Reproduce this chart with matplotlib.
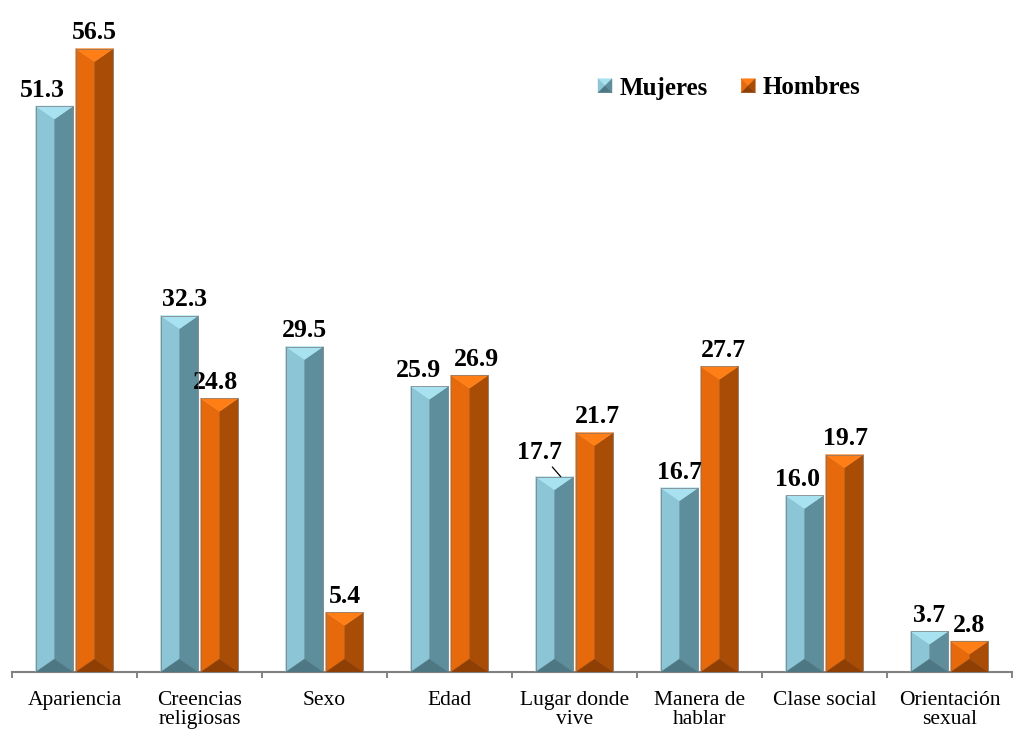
import matplotlib
matplotlib.use("Agg")
import matplotlib.pyplot as plt
import numpy as np
from matplotlib.patches import Polygon
from matplotlib.legend_handler import HandlerBase

categories = ["Apariencia", "Creencias\nreligiosas", "Sexo", "Edad",
              "Lugar donde\nvive", "Manera de\nhablar", "Clase social",
              "Orientación\nsexual"]
mujeres = [51.3, 32.3, 29.5, 25.9, 17.7, 16.7, 16.0, 3.7]
hombres = [56.5, 24.8, 5.4, 26.9, 21.7, 27.7, 19.7, 2.8]

# face colours: top, left, right, bottom
BLUE = ["#a8e2f1", "#8cc6d6", "#5e8e9b", "#4d7783"]
ORANGE = ["#ff7e16", "#e6690b", "#a94c06", "#8f3f04"]

# horizontal nudge of the value labels (points) so neighbours don't collide
nudge_m = [-9, 4, 0, -8, -11, 0, -5, 0]
nudge_h = [0, -3, 0, 5, 2, 3, 1, 0]

plt.rcParams["font.family"] = ["Liberation Serif", "DejaVu Serif"]

fig = plt.figure(figsize=(10.13, 7.33), dpi=100)
ax = fig.add_axes([12 / 1013, 61 / 733, 1000 / 1013, 662 / 733])
ax.set_xlim(-0.5, len(categories) - 0.5)
ax.set_ylim(0, 60)

x = np.arange(len(categories))
width = 0.3
off = 0.16


def bevel(ax, rect, cols, depth_px=13):
    x0, w, h = rect.get_x(), rect.get_width(), rect.get_height()
    x1, xm = x0 + w, x0 + w / 2
    upp = 1.0 / (ax.transData.transform((0, 1))[1] - ax.transData.transform((0, 0))[1])
    d = min(depth_px * upp, h / 2)
    polys = [
        ([(x0, 0), (x0, h), (xm, h - d), (xm, d)], cols[1]),
        ([(x1, 0), (x1, h), (xm, h - d), (xm, d)], cols[2]),
        ([(x0, h), (x1, h), (xm, h - d)], cols[0]),
        ([(x0, 0), (x1, 0), (xm, d)], cols[3]),
    ]
    for pts, c in polys:
        ax.add_patch(Polygon(pts, closed=True, facecolor=c, edgecolor=c,
                             lw=0.3, zorder=3))
    rect.set_edgecolor("#7a7a7a")
    rect.set_linewidth(0.5)
    rect.set_facecolor("none")
    rect.set_zorder(4)


bars_m = ax.bar(x - off, mujeres, width, label="Mujeres")
bars_h = ax.bar(x + off, hombres, width, label="Hombres")
for r in bars_m:
    bevel(ax, r, BLUE)
for r in bars_h:
    bevel(ax, r, ORANGE)

lab_kw = dict(ha="center", va="bottom", fontsize=18.5, fontweight="bold",
              textcoords="offset points")
for i, (r, v) in enumerate(zip(bars_m, mujeres)):
    cx = r.get_x() + r.get_width() / 2
    if i == 4:
        # this one sits off to the side with a short leader line
        ax.annotate(f"{v:.1f}", (r.get_x() + 2 * r.get_width() / 3, v),
                    xytext=(-15, 9), **lab_kw,
                    arrowprops=dict(arrowstyle="-", color="black", lw=0.9,
                                    shrinkA=0, shrinkB=0))
    else:
        ax.annotate(f"{v:.1f}", (cx, v), xytext=(nudge_m[i], 3), **lab_kw)
for i, (r, v) in enumerate(zip(bars_h, hombres)):
    cx = r.get_x() + r.get_width() / 2
    ax.annotate(f"{v:.1f}", (cx, v), xytext=(nudge_h[i], 3), **lab_kw)

# axis styling
for s in ["top", "right", "left"]:
    ax.spines[s].set_visible(False)
ax.spines["bottom"].set_color("#808080")
ax.spines["bottom"].set_linewidth(1.5)
ax.set_yticks([])
ax.set_xticks(x)
ax.set_xticklabels(categories, fontsize=15.5, linespacing=0.95)
ax.set_xticks(np.arange(-0.5, len(categories)), minor=True)
ax.tick_params(axis="x", which="major", length=0, pad=14)
ax.tick_params(axis="x", which="minor", length=4, direction="out",
               color="#707070", width=1.2)


class BevelHandler(HandlerBase):
    def __init__(self, cols):
        super().__init__()
        self.cols = cols

    def create_artists(self, legend, orig_handle, xdescent, ydescent,
                       width, height, fontsize, trans):
        s = height * 0.8
        x0 = -xdescent + width - s
        y0 = -ydescent + (height - s) / 2
        x1, y1 = x0 + s, y0 + s
        cx, cy = x0 + s / 2, y0 + s / 2
        tri = [
            ([(x0, y1), (x1, y1), (cx, cy)], self.cols[0]),
            ([(x0, y0), (x0, y1), (cx, cy)], self.cols[1]),
            ([(x1, y0), (x1, y1), (cx, cy)], self.cols[2]),
            ([(x0, y0), (x1, y0), (cx, cy)], self.cols[3]),
        ]
        return [Polygon(p, closed=True, facecolor=c, edgecolor=c, lw=0.3,
                        transform=trans) for p, c in tri]


ax.legend([bars_m, bars_h], ["Mujeres", "Hombres"],
          handler_map={bars_m: BevelHandler(BLUE), bars_h: BevelHandler(ORANGE)},
          ncol=2, frameon=False, loc="center left",
          bbox_to_anchor=(572 / 1013, 1 - 88 / 733),
          bbox_transform=fig.transFigure,
          prop=dict(size=18, weight="bold"),
          handlelength=0.7, handleheight=0.7, handletextpad=0.3,
          columnspacing=1.2)

fig.savefig("out.png", dpi=100)
